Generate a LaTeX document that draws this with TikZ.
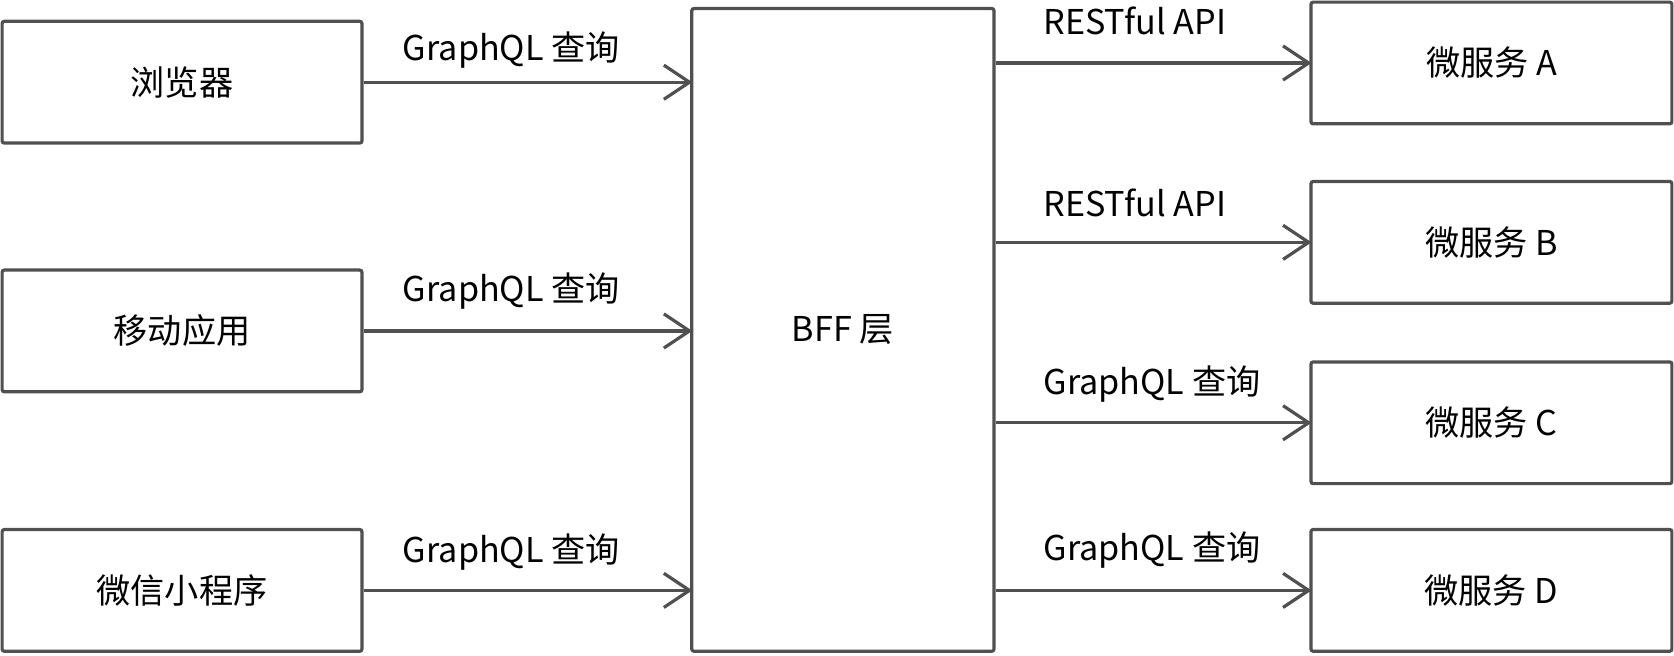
\documentclass[tikz,border=0pt]{standalone}
\usepackage{fontspec}
\setmainfont{Noto Sans CJK SC}
\usetikzlibrary{arrows.meta}
\definecolor{trait}{HTML}{505050}
\tikzset{
  boite/.style={draw=trait, line width=1.5pt, rounded corners=1pt, fill=white},
  fleche/.style={draw=trait, line width=1.5pt, -{Straight Barb[length=12pt,width=16pt,line width=1.5pt]}, shorten >=-1pt},
  etiq/.style={anchor=west, inner sep=0pt}
}
\begin{document}
\begin{tikzpicture}[x=0.5pt, y=-0.5pt, font=\fontsize{16}{19}\selectfont]
\useasboundingbox (0,0) rectangle (1568,614);
% clients à gauche
\node[boite, minimum width=168.5pt, minimum height=57pt] (nav) at (170.5,77) {浏览器};
\node[boite, minimum width=168.5pt, minimum height=57pt] (mobile) at (170.5,310) {移动应用};
\node[boite, minimum width=168.5pt, minimum height=57pt] (wechat) at (170.5,553) {微信小程序};
% couche centrale
\node[boite, minimum width=141.5pt, minimum height=301pt] (bff) at (789.5,309) {BFF 层};
% services à droite
\node[boite, minimum width=169pt, minimum height=57pt] (msa) at (1397,59) {微服务 A};
\node[boite, minimum width=169pt, minimum height=57pt] (msb) at (1397,227) {微服务 B};
\node[boite, minimum width=169pt, minimum height=57pt] (msc) at (1397,396) {微服务 C};
\node[boite, minimum width=169pt, minimum height=57pt] (msd) at (1397,553) {微服务 D};
% flèches clients -> BFF
\draw[fleche] (nav.east) -- (nav.east -| bff.west);
\draw[fleche] (mobile.east) -- (mobile.east -| bff.west);
\draw[fleche] (wechat.east) -- (wechat.east -| bff.west);
% flèches BFF -> services
\draw[fleche] (bff.east |- msa.west) -- (msa.west);
\draw[fleche] (bff.east |- msb.west) -- (msb.west);
\draw[fleche] (bff.east |- msc.west) -- (msc.west);
\draw[fleche] (bff.east |- msd.west) -- (msd.west);
% étiquettes
\node[etiq] (l1) at (377,47) {GraphQL 查询};
\node[etiq] (l2) at (377,273) {GraphQL 查询};
\node[etiq] (l3) at (377,517) {GraphQL 查询};
\node[etiq] (r1) at (977,20) {RESTful API};
\node[etiq] (r2) at (977,190) {RESTful API};
\node[etiq] (r3) at (977,360) {GraphQL 查询};
\node[etiq] (r4) at (977,515) {GraphQL 查询};
\end{tikzpicture}
\end{document}
